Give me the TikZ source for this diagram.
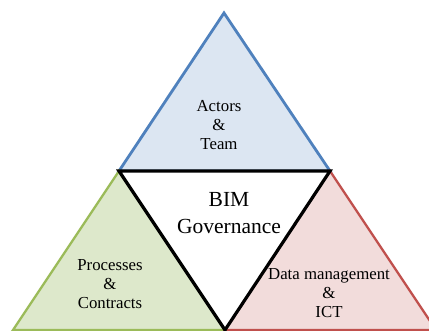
\documentclass[tikz,border=0pt]{standalone}
\usepackage{fontspec}
\setmainfont{Liberation Serif}
\usepackage{tikz}
\definecolor{actline}{HTML}{4F81BD}
\definecolor{actfill}{HTML}{DCE6F2}
\definecolor{procline}{HTML}{9BBB59}
\definecolor{procfill}{HTML}{DDE8CB}
\definecolor{dataline}{HTML}{C0504D}
\definecolor{datafill}{HTML}{F2DCDB}
\tikzstyle{pillar}=[line width=2.8pt, line join=miter]
\tikzstyle{label}=[align=center, font=\fontsize{16.8}{19}\selectfont]

\begin{document}
\begin{tikzpicture}[x=1pt, y=-1pt]
  \useasboundingbox (0,0) rectangle (429,331);
  \clip (0,0) rectangle (429,331);
  \coordinate (apex) at (224,13);
  \coordinate (l) at (119,171);
  \coordinate (r) at (330,171);
  \coordinate (b) at (225,330);
  \coordinate (bl) at (13,330);
  \coordinate (br) at (436,330);
  \filldraw[pillar, draw=actline, fill=actfill] (apex) -- (l) -- (r) -- cycle;
  \filldraw[pillar, line width=2.3pt, draw=procline, fill=procfill] (l) -- (bl) -- (b) -- cycle;
  \filldraw[pillar, line width=2.3pt, draw=dataline, fill=datafill] (r) -- (b) -- (br) -- cycle;
  \filldraw[line width=3.2pt, line join=miter, draw=black, fill=white] (l) -- (r) -- (b) -- cycle;
  \node[label] (actors) at (219,125) {Actors\\\&\\Team};
  \node[label] (processes) at (110,284) {Processes\\\&\\Contracts};
  \node[label] (data) at (329,293) {Data management\\\&\\ICT};
  \node[align=center, font=\fontsize{21.5}{27}\selectfont] (bim) at (229,213) {BIM\\Governance};
\end{tikzpicture}
\end{document}
